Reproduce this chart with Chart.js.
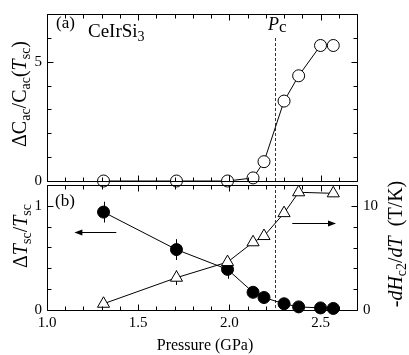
<!DOCTYPE html>
<html><head><meta charset="utf-8">
<script src="https://cdn.jsdelivr.net/npm/chart.js@4/dist/chart.umd.min.js"></script>
<style>
html,body{margin:0;padding:0;background:#fff;}
#wrap{position:relative;width:409px;height:355px;overflow:hidden;background:#fff;}
#c1{position:absolute;left:0;top:0;}
#c2{position:absolute;left:0;top:170px;}
</style></head><body>
<div id="wrap"><canvas id="c1" width="409" height="200"></canvas><canvas id="c2" width="409" height="185"></canvas></div>
<script>
// ---- data ----
const pressure = [1.31, 1.71, 1.99, 2.13, 2.19, 2.30, 2.38, 2.50, 2.57];
const deltaC = [0, 0, 0, 0.13, 0.81, 3.35, 4.41, 5.68, 5.68];
const deltaT = [0.94, 0.58, 0.39, 0.17, 0.12, 0.06, 0.03, 0.02, 0.015];
const deltaTErr = [0.10, 0.10, 0.09, 0, 0, 0, 0, 0, 0];
const pressureH = [1.31, 1.71, 1.99, 2.13, 2.19, 2.30, 2.38, 2.57];
const dHdT = [0.6, 3.1, 4.6, 6.5, 7.1, 9.3, 11.3, 11.2];
const dHdTErr = [0.3, 0.7, 0, 0, 0, 0, 0, 0];
const pc = 2.25;
const xTickValues = [1.0, 1.5, 2.0, 2.5];
const xTickLabels = ['1.0', '1.5', '2.0', '2.5'];
const yATickValues = [0, 5];
const yATickLabels = ['0', '5'];
const yBTickValues = [0, 1];
const yBTickLabels = ['0', '1'];
const yRTickValues = [0, 10];
const yRTickLabels = ['0', '10'];
const xRange = [1.0, 2.7];
const yARange = [0, 7];
const yBRange = [0, 1.2];
const yRRange = [0, 12];
// arrows in data units: [x from, x to, y (left axis units)]
const arrowLeft = [1.38, 1.15, 0.75];
const arrowRight = [2.345, 2.585, 0.835];

const SERIF = '"Liberation Serif", "Times New Roman", serif';

function font(size, italic) { return (italic ? 'italic ' : '') + size + 'px ' + SERIF; }

function richText(ctx, runs, x, y, rot, align) {
  ctx.save();
  ctx.translate(x, y);
  if (rot) ctx.rotate(rot);
  ctx.fillStyle = '#000';
  ctx.textBaseline = 'alphabetic';
  ctx.textAlign = 'left';
  let w = 0;
  for (const r of runs) { ctx.font = font(r.s, r.i); w += ctx.measureText(r.t).width; }
  let cx = align === 'center' ? -w / 2 : 0;
  for (const r of runs) {
    ctx.font = font(r.s, r.i);
    ctx.fillText(r.t, cx, r.dy || 0);
    cx += ctx.measureText(r.t).width;
  }
  ctx.restore();
}

function px(v) { return Math.round(v) + 0.5; }

function frameTicks(chart, cfg) {
  const { ctx, chartArea: a, scales } = chart;
  const L = px(a.left), R = px(a.right), T = px(a.top), B = px(a.bottom);
  ctx.save();
  ctx.strokeStyle = '#000';
  ctx.lineWidth = 1;
  ctx.beginPath();
  ctx.rect(L, T, R - L, B - T);
  ctx.stroke();
  ctx.beginPath();
  const xs = scales.x;
  const nx = Math.round((xRange[1] - xRange[0]) / 0.1);
  for (let i = 0; i <= nx; i++) {
    const v = xRange[0] + i * 0.1;
    const p = px(xs.getPixelForValue(v));
    const len = (i % 5 === 0) ? 6 : 4;
    ctx.moveTo(p, B); ctx.lineTo(p, B - len);
    ctx.moveTo(p, T); ctx.lineTo(p, T + len);
  }
  for (const side of cfg.y) {
    const s = scales[side.id];
    const n = Math.round((s.max - s.min) / side.step);
    for (let i = 0; i <= n; i++) {
      const v = s.min + i * side.step;
      const p = px(s.getPixelForValue(v));
      const major = side.major.some(m => Math.abs(m - v) < 1e-6);
      const len = major ? 6 : 4;
      if (side.left) { ctx.moveTo(L, p); ctx.lineTo(L + len, p); }
      else { ctx.moveTo(R, p); ctx.lineTo(R - len, p); }
    }
  }
  ctx.stroke();
  ctx.restore();
}

function dashed(chart, yTopPix) {
  const { ctx, chartArea: a, scales } = chart;
  const x = px(scales.x.getPixelForValue(pc));
  ctx.save();
  ctx.strokeStyle = '#333';
  ctx.lineWidth = 1;
  ctx.setLineDash([3, 2]);
  ctx.beginPath();
  ctx.moveTo(x, yTopPix);
  ctx.lineTo(x, a.bottom);
  ctx.stroke();
  ctx.restore();
}

function arrow(ctx, xs, ys, spec) {
  const x0 = xs.getPixelForValue(spec[0]);
  const x1 = xs.getPixelForValue(spec[1]);
  const y = px(ys.getPixelForValue(spec[2]));
  const dir = Math.sign(x1 - x0);
  ctx.save();
  ctx.strokeStyle = '#000'; ctx.fillStyle = '#000'; ctx.lineWidth = 1;
  ctx.beginPath(); ctx.moveTo(x0, y); ctx.lineTo(x1 - dir * 6, y); ctx.stroke();
  ctx.beginPath(); ctx.moveTo(x1, y); ctx.lineTo(x1 - dir * 8, y - 3); ctx.lineTo(x1 - dir * 8, y + 3); ctx.closePath(); ctx.fill();
  ctx.restore();
}

function errorBars(chart, xs, ys, xv, yv, ev) {
  const ctx = chart.ctx;
  ctx.save();
  ctx.strokeStyle = '#000'; ctx.lineWidth = 1;
  ctx.beginPath();
  for (let i = 0; i < xv.length; i++) {
    if (!ev[i]) continue;
    const x = px(xs.getPixelForValue(xv[i]));
    ctx.moveTo(x, ys.getPixelForValue(yv[i] - ev[i]));
    ctx.lineTo(x, ys.getPixelForValue(yv[i] + ev[i]));
  }
  ctx.stroke();
  ctx.restore();
}

function fixedTicks(values) {
  return function (s) { s.ticks = values.map(v => ({ value: v })); };
}

const tickFont = { family: SERIF, size: 15 };

// ---- top panel (a) ----
new Chart(document.getElementById('c1'), {
  type: 'line',
  data: {
    datasets: [{
      data: pressure.map((p, i) => ({ x: p, y: deltaC[i] })),
      borderColor: '#000', borderWidth: 1,
      pointRadius: 6, pointHoverRadius: 6,
      pointBackgroundColor: '#fff', pointBorderColor: '#000', pointBorderWidth: 1,
      tension: 0, clip: false
    }]
  },
  options: {
    responsive: false, animation: false, devicePixelRatio: 1,
    layout: { padding: { top: 0, bottom: 19, left: 0, right: 0 } },
    plugins: { legend: { display: false }, tooltip: { enabled: false } },
    scales: {
      x: { type: 'linear', min: xRange[0], max: xRange[1], display: false },
      y: {
        position: 'left', min: yARange[0], max: yARange[1],
        grid: { display: false, drawTicks: false }, border: { display: false },
        afterBuildTicks: fixedTicks(yATickValues),
        ticks: { padding: 5, color: '#000', font: tickFont, callback: (v, i) => yATickLabels[i] },
        afterFit(s) { s.width = 47; }
      },
      y2: {
        position: 'right', min: yARange[0], max: yARange[1],
        grid: { display: false, drawTicks: false }, border: { display: false },
        ticks: { display: false },
        afterFit(s) { s.width = 52; }
      }
    }
  },
  plugins: [{
    id: 'deco1',
    beforeDatasetsDraw(chart) {
      dashed(chart, 38);
    },
    afterDraw(chart) {
      frameTicks(chart, { y: [
        { id: 'y', step: 1, major: [0, 5], left: true },
        { id: 'y2', step: 1, major: [0, 5], left: false }
      ] });
      const ctx = chart.ctx;
      richText(ctx, [{ t: '(a)', s: 17 }], 56, 28);
      richText(ctx, [{ t: 'CeIrSi', s: 19 }, { t: '3', s: 14, dy: 4 }], 88, 37);
      richText(ctx, [{ t: 'P', s: 18, i: true }, { t: 'c', s: 17, dy: 2 }], 268, 30);
      richText(ctx, [
        { t: '\u0394C', s: 20 }, { t: 'ac', s: 14, dy: 4 },
        { t: '/C', s: 20 }, { t: 'ac', s: 14, dy: 4 },
        { t: '(', s: 20 }, { t: 'T', s: 20, i: true }, { t: 'sc', s: 14, dy: 4 }, { t: ')', s: 20 }
      ], 26, 94, -Math.PI / 2, 'center');
    }
  }]
});

// ---- bottom panel (b) ----
new Chart(document.getElementById('c2'), {
  type: 'line',
  data: {
    datasets: [{
      data: pressureH.map((p, i) => ({ x: p, y: dHdT[i] })),
      yAxisID: 'yR',
      borderColor: '#000', borderWidth: 1,
      pointStyle: 'triangle', pointRadius: 7, pointHoverRadius: 7,
      pointBackgroundColor: '#fff', pointBorderColor: '#000', pointBorderWidth: 1,
      tension: 0, clip: false
    }, {
      data: pressure.map((p, i) => ({ x: p, y: deltaT[i] })),
      yAxisID: 'y',
      borderColor: '#000', borderWidth: 1,
      pointRadius: 6, pointHoverRadius: 6,
      pointBackgroundColor: '#000', pointBorderColor: '#000', pointBorderWidth: 1,
      tension: 0, clip: false
    }]
  },
  options: {
    responsive: false, animation: false, devicePixelRatio: 1,
    layout: { padding: { top: 11, bottom: 0, left: 0, right: 0 } },
    plugins: { legend: { display: false }, tooltip: { enabled: false } },
    scales: {
      x: {
        type: 'linear', min: xRange[0], max: xRange[1],
        grid: { display: false, drawTicks: false }, border: { display: false },
        afterBuildTicks: fixedTicks(xTickValues),
        ticks: { padding: 4, color: '#000', font: tickFont, maxRotation: 0, autoSkip: false, callback: (v, i) => xTickLabels[i] },
        afterFit(s) { s.height = 45; }
      },
      y: {
        position: 'left', min: yBRange[0], max: yBRange[1],
        grid: { display: false, drawTicks: false }, border: { display: false },
        afterBuildTicks: fixedTicks(yBTickValues),
        ticks: { padding: 5, color: '#000', font: tickFont, callback: (v, i) => yBTickLabels[i] },
        afterFit(s) { s.width = 47; }
      },
      yR: {
        position: 'right', min: yRRange[0], max: yRRange[1],
        grid: { display: false, drawTicks: false }, border: { display: false },
        afterBuildTicks: fixedTicks(yRTickValues),
        ticks: { padding: 6, color: '#000', font: tickFont, callback: (v, i) => yRTickLabels[i] },
        afterFit(s) { s.width = 52; }
      }
    }
  },
  plugins: [{
    id: 'deco2',
    beforeDatasetsDraw(chart) {
      dashed(chart, chart.chartArea.top);
      const s = chart.scales;
      errorBars(chart, s.x, s.y, pressure, deltaT, deltaTErr);
      errorBars(chart, s.x, s.yR, pressureH, dHdT, dHdTErr);
      arrow(chart.ctx, s.x, s.y, arrowLeft);
      arrow(chart.ctx, s.x, s.y, arrowRight);
    },
    afterDraw(chart) {
      frameTicks(chart, { y: [
        { id: 'y', step: 0.2, major: [0, 1], left: true },
        { id: 'yR', step: 2, major: [0, 10], left: false }
      ] });
      const ctx = chart.ctx;
      const a = chart.chartArea;
      richText(ctx, [{ t: '(b)', s: 17 }], 55, 36);
      richText(ctx, [{ t: 'Pressure (GPa)', s: 16 }], (a.left + a.right) / 2 + 3, 180, 0, 'center');
      richText(ctx, [
        { t: '\u0394', s: 20 }, { t: 'T', s: 20, i: true }, { t: 'sc', s: 14, dy: 4 },
        { t: '/', s: 20 }, { t: 'T', s: 20, i: true }, { t: 'sc', s: 14, dy: 4 }
      ], 27, 66, -Math.PI / 2, 'center');
      richText(ctx, [
        { t: '-', s: 20 }, { t: 'dH', s: 20, i: true }, { t: 'c2', s: 14, dy: 4 },
        { t: '/', s: 20 }, { t: 'dT', s: 20, i: true }, { t: '  (T/K)', s: 20 }
      ], 402, 74, -Math.PI / 2, 'center');
    }
  }]
});
</script>
</body></html>
